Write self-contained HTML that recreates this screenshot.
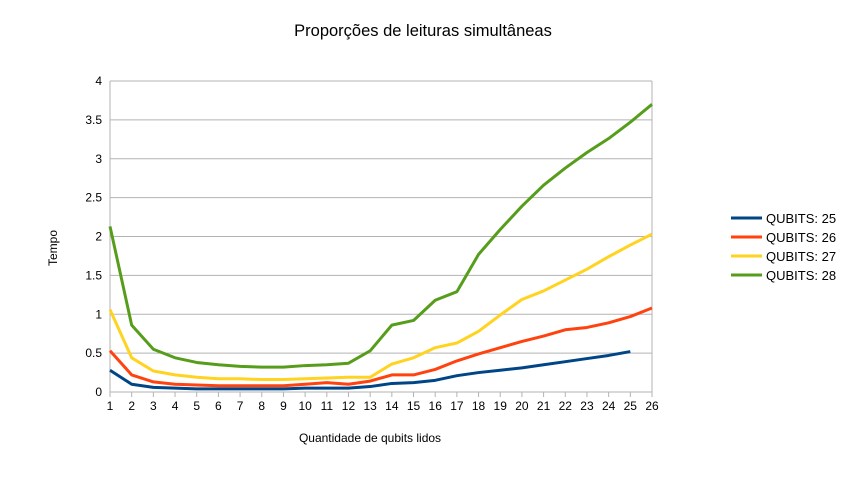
<!DOCTYPE html>
<html><head><meta charset="utf-8"><style>
body{margin:0;background:#fff;font-family:"Liberation Sans",sans-serif}
</style></head><body>
<svg id="c" width="849" height="493" xmlns="http://www.w3.org/2000/svg">
<text x="423" y="36" text-anchor="middle" font-size="16.5" fill="#000">Proporções de leituras simultâneas</text>
<text x="370" y="442" text-anchor="middle" font-size="12">Quantidade de qubits lidos</text>
<text x="57" y="248" text-anchor="middle" font-size="12" transform="rotate(-90 57 248)">Tempo</text>
<g id="grid"></g><g id="series"></g><g id="legend"></g>
</svg>
<script>
const categories=[1,2,3,4,5,6,7,8,9,10,11,12,13,14,15,16,17,18,19,20,21,22,23,24,25,26];
const yTicks=[0,0.5,1,1.5,2,2.5,3,3.5,4];
const seriesNames=["QUBITS: 25","QUBITS: 26","QUBITS: 27","QUBITS: 28"];
const q25=[0.28,0.10,0.06,0.05,0.04,0.04,0.04,0.04,0.04,0.05,0.05,0.05,0.07,0.11,0.12,0.15,0.21,0.25,0.28,0.31,0.35,0.39,0.43,0.47,0.52];
const q26=[0.53,0.22,0.13,0.10,0.09,0.08,0.08,0.08,0.08,0.10,0.12,0.10,0.14,0.22,0.22,0.29,0.40,0.49,0.57,0.65,0.72,0.80,0.83,0.89,0.97,1.08];
const q27=[1.06,0.44,0.27,0.22,0.19,0.17,0.17,0.16,0.16,0.17,0.18,0.19,0.19,0.36,0.44,0.57,0.63,0.78,0.99,1.19,1.30,1.44,1.58,1.74,1.89,2.03];
const q28=[2.13,0.86,0.55,0.44,0.38,0.35,0.33,0.32,0.32,0.34,0.35,0.37,0.53,0.86,0.92,1.18,1.29,1.77,2.09,2.39,2.66,2.88,3.08,3.26,3.47,3.70];
const colors=["#004586","#ff420e","#ffd320","#579d1c"];
const NS="http://www.w3.org/2000/svg";
const x0=110,x1=652,y0=392,y1=81;
const xs=i=>x0+(i)*(x1-x0)/(categories.length-1);
const ys=v=>y0-v*(y0-y1)/4;
function mk(t,a,p){const e=document.createElementNS(NS,t);for(const k in a)e.setAttribute(k,a[k]);p.appendChild(e);return e;}
const g=document.getElementById('grid');
yTicks.forEach(v=>{
 const l=mk('line',{x1:x0,x2:x1,y1:ys(v),y2:ys(v),stroke:'#b3b3b3','stroke-width':1},g);
 
 
 const t=mk('text',{x:x0-8,y:ys(v)+4,'text-anchor':'end','font-size':12},g);
 t.textContent=String(v);
 
 
});
const vl=mk('line',{x1:x0,x2:x0,y1:y1,y2:y0+5,stroke:'#b3b3b3'},g);


const vr=mk('line',{x1:x1,x2:x1,y1:y1,y2:y0,stroke:'#b3b3b3'},g);


categories.forEach((c,i)=>{
 const tk=mk('line',{x1:xs(i),x2:xs(i),y1:y0,y2:y0+5,stroke:'#b3b3b3'},g);
 
 
 const t=mk('text',{x:xs(i),y:y0+18,'text-anchor':'middle','font-size':12},g);
 t.textContent=String(c);
 
 
});
const s=document.getElementById('series');
[q25,q26,q27,q28].forEach((d,k)=>{
 const p=mk('polyline',{points:d.map((v,i)=>xs(i)+','+ys(v)).join(' '),fill:'none',stroke:colors[k],'stroke-width':3,'stroke-linejoin':'round'},s);
 
 
});
const L=document.getElementById('legend');
seriesNames.forEach((n,k)=>{
 const y=218+k*19;
 const ln=mk('line',{x1:731,x2:762,y1:y,y2:y,stroke:colors[k],'stroke-width':3},L);
 
 
 const t=mk('text',{x:766,y:y+5,'font-size':13},L);
 t.textContent=n;
 
 
});
</script>
</body></html>
